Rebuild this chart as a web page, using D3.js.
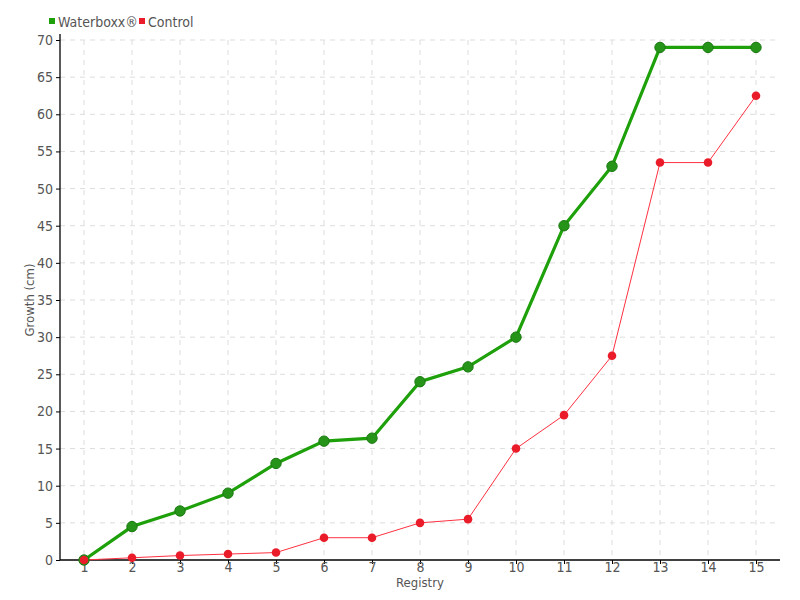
<!DOCTYPE html>
<html><head><meta charset="utf-8">
<script src="https://cdn.jsdelivr.net/npm/d3@7"></script>
<style>
body{margin:0;background:#fff;}
text{font-family:"DejaVu Sans Condensed","DejaVu Sans",sans-serif;font-stretch:condensed;fill:#555;}
</style></head>
<body><svg id="c" width="800" height="600"></svg>
<script>
const categories = ["1","2","3","4","5","6","7","8","9","10","11","12","13","14","15"];
const waterboxx = [0,4.5,6.6,9,13,16,16.4,24,26,30,45,53,69,69,69];
const control = [0,0.3,0.6,0.8,1,3,3,5,5.5,15,19.5,27.5,53.5,53.5,62.5];
const yTicks = [0,5,10,15,20,25,30,35,40,45,50,55,60,65,70];
const seriesNames = ["Waterboxx®","Control"];

const svg = d3.select("#c");
const L=60,R=780,T=40,B=560;
const x = d3.scalePoint().domain(categories).range([L,R]).padding(0.5);
const y = d3.scaleLinear().domain([0,70]).range([B,T]);

// grid
const g = svg.append("g");
g.selectAll("line.h").data(yTicks.slice(1)).enter().append("line")
 .attr("x1",L).attr("x2",R).attr("y1",d=>y(d)).attr("y2",d=>y(d))
 .attr("stroke","#ddd").attr("stroke-dasharray","5,5");
g.selectAll("line.v").data(categories).enter().append("line")
 .attr("x1",d=>x(d)).attr("x2",d=>x(d)).attr("y1",T).attr("y2",B)
 .attr("stroke","#ddd").attr("stroke-dasharray","5,5");

// axes
const ya = svg.append("g").attr("transform",`translate(${L},0)`)
 .call(d3.axisLeft(y).tickValues(yTicks).tickSize(4).tickPadding(3));
const xa = svg.append("g").attr("transform",`translate(0,${B})`)
 .call(d3.axisBottom(x).tickSize(4).tickPadding(0));
[ya,xa].forEach(a=>{
  a.select(".domain").attr("stroke","#000").attr("stroke-width",1.3);
  a.selectAll(".tick line").attr("stroke","#000");
  a.selectAll("text").style("font-size","14px").attr("fill","#555");
});
xa.selectAll(".tick text").attr("y",2);
ya.select(".domain").attr("d",`M0,${T-6}V${B}`);
xa.select(".domain").attr("d",`M${L},0H${R}`);

// axis titles
svg.append("text").attr("x",420).attr("y",587).attr("text-anchor","middle")
 .style("font-size","13px").text("Registry");
svg.append("text").attr("transform","translate(34,300) rotate(-90)").attr("text-anchor","middle")
 .style("font-size","13px").text("Growth (cm)");

// series
const line = d3.line().x((d,i)=>x(categories[i])).y(d=>y(d));
svg.append("path").datum(control).attr("d",line).attr("fill","none")
 .attr("stroke","#ff3040").attr("stroke-width",1);
svg.append("path").datum(waterboxx).attr("d",line).attr("fill","none")
 .attr("stroke","#1da00a").attr("stroke-width",3.2);
svg.selectAll("circle.w").data(waterboxx).enter().append("circle")
 .attr("cx",(d,i)=>x(categories[i])).attr("cy",d=>y(d)).attr("r",5.2)
 .attr("fill","#259418").attr("stroke","#1b7a12").attr("stroke-width",1);
svg.selectAll("circle.c").data(control).enter().append("circle")
 .attr("cx",(d,i)=>x(categories[i])).attr("cy",d=>y(d)).attr("r",4.3)
 .attr("fill","#ea1c2a");

// legend
const leg = svg.append("g");
const lx=[49,139], colors=["#1da00a","#ea1c2a"];
seriesNames.forEach((n,i)=>{
  leg.append("rect").attr("x",lx[i]).attr("y",18).attr("width",6).attr("height",6).attr("fill",colors[i]);
  leg.append("text").attr("x",lx[i]+9).attr("y",27).style("font-size","14px").text(n);
});
</script></body></html>
